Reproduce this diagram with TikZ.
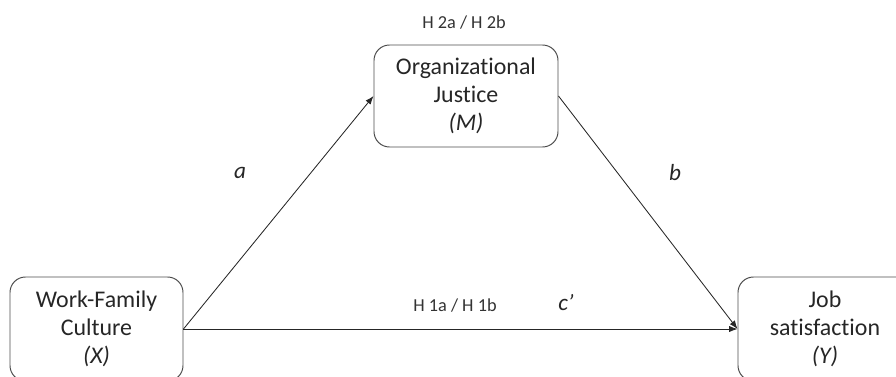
\documentclass[tikz,border=0pt]{standalone}
\usepackage{fontspec}
\setmainfont[Ligatures={NoCommon}]{Carlito}
\usepackage{tikz}
\usetikzlibrary{arrows.meta,positioning}

\tikzset{
  varbox/.style={draw=black!70, line width=0.7pt, rounded corners=11pt, align=center,
    font=\fontsize{17}{20}\selectfont, text=black!85, inner sep=0pt},
  hyplabel/.style={font=\fontsize{13}{15}\selectfont, text=black!80},
  pathlabel/.style={font=\fontsize{16.5}{19}\selectfont\itshape, text=black!85},
  pathline/.style={draw=black!85, line width=0.6pt, -{Latex[length=6pt,width=4.5pt]}}
}

\begin{document}
\begin{tikzpicture}[x=0.025cm,y=0.025cm]
  \useasboundingbox (0,0) rectangle (896,376);

  \node[varbox, minimum width=184*0.025cm, minimum height=102*0.025cm] (M) at (466,280)
    {Organizational\\Justice\\\textit{(M)}};
  \node[varbox, minimum width=173*0.025cm, minimum height=104*0.025cm] (X) at (96.5,47)
    {Work-Family\\Culture\\\textit{(X)}};
  \node[varbox, minimum width=174*0.025cm, minimum height=104*0.025cm] (Y) at (825,47)
    {Job\\satisfaction\\\textit{(Y)}};

  \draw[pathline] (X.east) -- (M.west);
  \draw[pathline] (M.east) -- (Y.west);
  \draw[pathline] (X.east) -- (Y.west);

  \node[hyplabel] (h2) at (464,353) {H 2a / H 2b};
  \node[hyplabel] (h1) at (455,70) {H 1a / H 1b};
  \node[pathlabel] (la) at (240,203) {a};
  \node[pathlabel] (lb) at (675,203) {b};
  \node[pathlabel] (lc) at (566,73) {c’};

\end{tikzpicture}
\end{document}
